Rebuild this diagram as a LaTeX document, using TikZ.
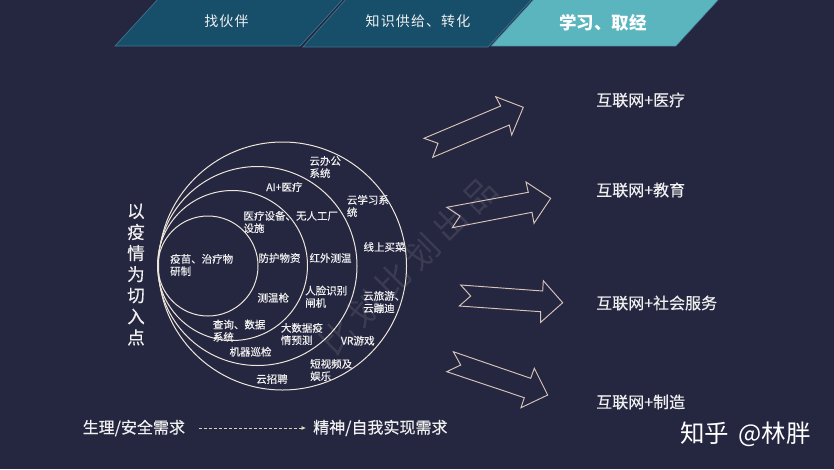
\documentclass[tikz,border=0pt]{standalone}
\usepackage{fontspec}
\setmainfont{Noto Sans CJK SC}
\setsansfont{Noto Sans CJK SC}
\usetikzlibrary{arrows.meta}
\newfontfamily\wmfont[LetterSpace=22]{Noto Sans CJK SC}
\newfontfamily\tabfont[LetterSpace=8]{Noto Sans CJK SC}
\newfontfamily\lblfont[FakeBold=0.35]{Noto Sans CJK SC}
\definecolor{bgc}{HTML}{25263F}
\definecolor{tabdark}{HTML}{174E69}
\definecolor{tabline}{HTML}{3F7390}
\definecolor{tablight}{HTML}{5BB5BF}
\definecolor{ringc}{HTML}{EDE6DA}
\definecolor{arrowc}{HTML}{D6C4BA}
\definecolor{txtc}{HTML}{F0F0F0}
\definecolor{wmc}{HTML}{3B3C52}
\definecolor{dashc}{HTML}{DDD5B8}
\tikzset{
  px/.style={x=1pt,y=-1pt},
  ring/.style={draw=ringc,line width=1pt},
  fatarrow/.style={draw=arrowc,line width=.95pt,line join=miter},
  tabd/.style={fill=tabdark,draw=tabline,line width=.7pt},
  tabl/.style={fill=tablight,draw=tabline,line width=.5pt},
  ctext/.style={text=txtc,font=\lblfont\fontsize{10.5}{12.3}\selectfont,align=left,inner sep=0pt,anchor=west},
  rtext/.style={text=txtc,font=\lblfont\fontsize{16}{18}\selectfont,anchor=west,inner sep=0pt},
  btext/.style={text=txtc,font=\lblfont\fontsize{16}{18}\selectfont,anchor=west,inner sep=0pt},
  tabtext/.style={text=txtc,font=\tabfont\fontsize{14}{16}\selectfont,inner sep=0pt},
  vtext/.style={text=txtc,font=\lblfont\fontsize{17.5}{21.1}\selectfont,align=center,inner sep=0pt},
}
\begin{document}
\begin{tikzpicture}[px]
\useasboundingbox (0,0) rectangle (834,469);
\fill[bgc] (0,0) rectangle (834,469);
% watermark
\node[text=wmc,rotate=45,font=\wmfont\fontsize{33}{36}\selectfont,inner sep=0pt] (wm) at (408,266) {比划比划出品};
% tabs
\path[tabd] (159,-2) -- (344,-2) -- (300,46) -- (115,46) -- cycle;
\path[tabd] (347,-2) -- (533,-2) -- (488,47) -- (303,47) -- cycle;
\path[tabl] (535,-2) -- (720,-2) -- (676,46) -- (491,46) -- cycle;
\node[tabtext] (t1) at (226.5,21.5) {找伙伴};
\node[tabtext] (t2) at (418,21.5) {知识供给、转化};
\node[text=white,font=\bfseries\fontsize{17.5}{19}\selectfont,inner sep=0pt] (t3) at (603,22.5) {学习、取经};
% rings
\draw[ring] (282.5,266) circle[radius=124];
\draw[ring] (257.5,266) circle[radius=99.5];
\draw[ring] (232.5,265.5) circle[radius=75];
\draw[ring] (208,266) circle[radius=50];
% ring labels
\node[ctext] (c1) at (309.3,167) {云办公\\系统};
\node[ctext] (c2) at (266,187) {AI+医疗};
\node[ctext] (c3) at (346.7,206) {云学习系\\统};
\node[ctext] (c4) at (243.3,222) {医疗设备、无人工厂\\设施};
\node[ctext] (c5) at (363.3,247) {线上买菜};
\node[ctext] (c6) at (170,265) {疫苗、治疗物\\研制};
\node[ctext] (c7) at (258.3,258) {防护物资};
\node[ctext] (c8) at (309.3,258) {红外测温};
\node[ctext] (c9) at (305,296.7) {人脸识别\\闸机};
\node[ctext] (c10) at (257.3,297.7) {测温枪};
\node[ctext] (c11) at (363,302) {云旅游、\\云蹦迪};
\node[ctext] (c12) at (212.7,330.7) {查询、数据\\系统};
\node[ctext] (c13) at (280.7,334) {大数据疫\\情预测};
\node[ctext] (c14) at (340.7,340.7) {VR游戏};
\node[ctext] (c15) at (229.3,351.7) {机器巡检};
\node[ctext] (c16) at (310,370) {短视频及\\娱乐};
\node[ctext] (c17) at (256,379) {云招聘};
% vertical label
\node[vtext] (v) at (136,274.5) {以\\疫\\情\\为\\切\\入\\点};
% fat arrows
\draw[fatarrow] (424,138.3) -- (500.7,106) -- (495.7,96.7) -- (523.3,107.3) -- (511.7,135) -- (509.3,125) -- (432.7,157.3) -- (438,143.3) -- cycle;
\draw[fatarrow] (446.7,207.3) -- (528.3,192.3) -- (526,182) -- (550.7,198.3) -- (534,223.3) -- (532,212.3) -- (452.3,227.7) -- (460,216) -- cycle;
\draw[fatarrow] (460.7,285) -- (542.7,291) -- (543.3,280.7) -- (562.7,302.7) -- (540.7,322.3) -- (540.7,311.7) -- (459.3,306) -- (470.7,296) -- cycle;
\draw[fatarrow] (453.3,351.7) -- (530.7,378.3) -- (534.3,368.3) -- (547.7,395) -- (521,407.7) -- (524.3,397.7) -- (446.7,371.7) -- (460.7,365) -- cycle;
% right labels
\node[rtext] (r1) at (596,100) {互联网+医疗};
\node[rtext] (r2) at (596,190) {互联网+教育};
\node[rtext] (r3) at (596,303) {互联网+社会服务};
\node[rtext] (r4) at (596,402) {互联网+制造};
% bottom
\node[btext] (b1) at (82.5,428) {生理/安全需求};
\node[btext] (b2) at (313,428) {精神/自我实现需求};
\draw[dashc,line width=.7pt,dash pattern=on 3pt off 2pt,-{Latex[length=4.5pt,width=4pt]},shorten <=14pt,shorten >=7pt] (b1.east) -- (b2.west);
% signature
\node[text=white,font=\fontsize{24.5}{26}\selectfont,anchor=west,inner sep=0pt] (sig) at (680,434) {知乎\hspace{4pt} @林胖};
\end{tikzpicture}
\end{document}
